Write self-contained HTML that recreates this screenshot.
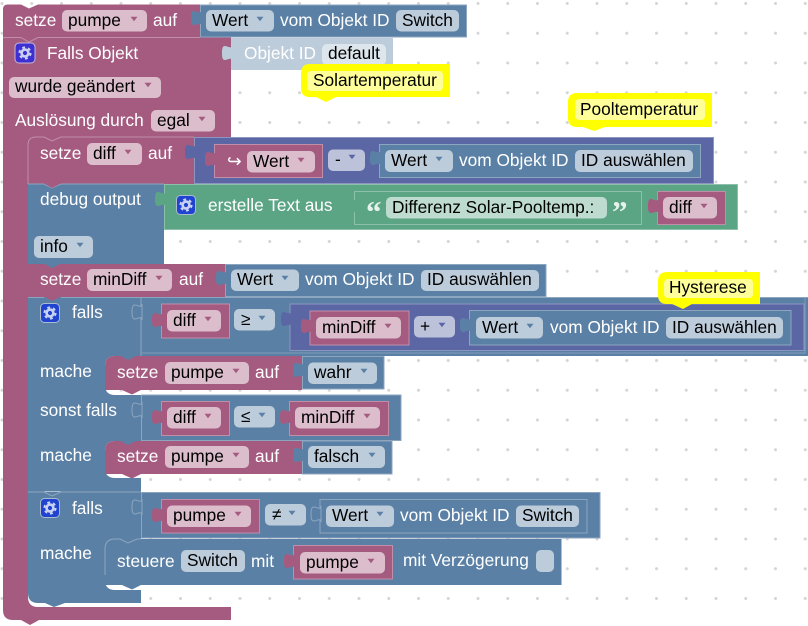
<!DOCTYPE html>
<html><head><meta charset="utf-8"><style>
html,body{margin:0;padding:0;background:#fff;width:808px;height:626px;overflow:hidden}
svg{display:block}
text{font-family:"Liberation Sans",sans-serif;font-size:17.3px;fill:#000}
.w{fill:#fff}
.P{fill:#a55b80}.B{fill:#5b80a5}.U{fill:#5b67a5}.G{fill:#5ba585}
.Ps{fill:#a55b80;stroke:#c08ea8;stroke-width:1}
.Bs{fill:#5b80a5;stroke:#8ca6c0;stroke-width:1}
.Us{fill:#5b67a5;stroke:#8c95c0;stroke-width:1}
.Gs{fill:#5ba585;stroke:#8cc0aa;stroke-width:1}
.fp{fill:#dbbdcc}.fb{fill:#bdccdb}.fu{fill:#bdc2db}.fg{fill:#bddbce}
</style></head><body>
<svg width="808" height="626" viewBox="0 0 808 626" xmlns="http://www.w3.org/2000/svg">
<defs>
<pattern id="grid" x="0.5" y="2" width="29.75" height="29.75" patternUnits="userSpaceOnUse"><circle cx="1.5" cy="1.5" r="1.5" fill="#d4d4d4"/></pattern>
<path id="tab" d="M1,0 V2 C-2,3 -4,1 -6,1 C-9,1 -9,5 -9,8 C-9,11 -9,15 -6,15 C-4,15 -2,13 1,14 V16 Z"/>
<path id="a" d="M-3.5 -2.2h7l-3.5 4.4z"/>
<g id="gear"><circle r="5.6" fill="none" stroke="#c9d2f2" stroke-width="2" stroke-dasharray="2.9 2.96"/><circle r="3.4" fill="none" stroke="#c9d2f2" stroke-width="2.6"/></g>
</defs>
<rect width="808" height="626" fill="#fff"/>
<rect width="808" height="626" fill="url(#grid)"/>

<!-- outer hat C block -->
<path class="P" d="M3,37H231V137H61L52,141L44,137H36Q28,137 28,145V597Q28,607 38,607H231V620H39L30,625L21,620H13Q3,620 3,610Z"/>
<!-- top set block -->
<path class="P" d="M8,4.5H21L29,8.5L38,4.5H200V37.500H38L29,42L21,37.500H3V9Q3,4.500 8,4.500Z"/>
<path d="M3,37.500H21L29,42L38,37.500H200" fill="none" stroke="#c08ea8" stroke-width="1"/>
<rect class="B" x="200" y="4.500" width="267" height="33"/>
<rect x="200.500" y="5" width="266" height="32" fill="none" stroke="#8ca6c0" stroke-width="1"/>
<use href="#tab" class="B" x="200" y="10"/>
<text class="w" x="15" y="26">setze</text>
<rect class="fp" x="62" y="10" width="85" height="21.500" rx="5"/><text x="68" y="26">pumpe</text><use href="#a" x="134" y="19" fill="#a55b80"/>
<text class="w" x="153" y="26">auf</text>
<rect class="fb" x="206" y="10" width="68" height="21.500" rx="5"/><text x="212" y="26">Wert</text><use href="#a" x="260" y="19" fill="#5b80a5"/>
<text class="w" x="280" y="26">vom Objekt ID</text>
<rect class="fb" x="396" y="10" width="63" height="21.500" rx="5"/><text x="402" y="26">Switch</text>

<!-- Falls Objekt -->
<rect x="15" y="43" width="20" height="20" rx="4" fill="#3e2fd3" stroke="#c6b8d8" stroke-width="1"/><use href="#gear" x="25" y="53"/>
<text class="w" x="47" y="59">Falls Objekt</text>
<rect x="231" y="38" width="162" height="32" fill="#bdccdb"/>
<use href="#tab" x="231" y="45" fill="#bdccdb"/>
<text class="w" x="244" y="59">Objekt ID</text>
<rect x="322" y="44" width="64" height="21" rx="5" fill="#dee6ed"/><text x="328" y="59">default</text>
<rect class="fp" x="9" y="77" width="152" height="21" rx="5"/><text x="15" y="92">wurde geändert</text><use href="#a" x="148" y="85" fill="#a55b80"/>
<text class="w" x="15" y="126">Auslösung durch</text>
<rect class="fp" x="151" y="110" width="64" height="21.500" rx="5"/><text x="157" y="126">egal</text><use href="#a" x="202" y="119" fill="#a55b80"/>

<!-- set diff -->
<path class="P" d="M28,145Q28,137 36,137H194V184H28Z"/>
<path d="M28,184V145Q28,137 36,137H44L52,141L61,137H194" fill="none" stroke="#c08ea8" stroke-width="1"/>
<rect class="Us" x="194.500" y="137.500" width="519" height="46"/>
<use href="#tab" class="U" x="194" y="144"/>
<text class="w" x="40" y="159">setze</text>
<rect class="fp" x="87" y="143" width="55" height="22" rx="5"/><text x="93" y="159">diff</text><use href="#a" x="128" y="152" fill="#a55b80"/>
<text class="w" x="148" y="159">auf</text>
<rect class="Ps" x="214.500" y="144.500" width="108" height="33"/>
<use href="#tab" class="P" x="214" y="151"/>
<text class="w" x="227" y="167">↪</text>
<rect class="fp" x="247" y="151" width="68" height="21.500" rx="5"/><text x="253" y="167">Wert</text><use href="#a" x="301" y="160" fill="#a55b80"/>
<rect class="fu" x="328" y="149.500" width="37" height="21.500" rx="5"/><text x="335" y="165">-</text><use href="#a" x="352" y="157" fill="#5b67a5"/>
<rect class="Bs" x="379.500" y="144.500" width="321" height="33"/>
<use href="#tab" class="B" x="379" y="150"/>
<rect class="fb" x="385" y="150" width="68" height="22" rx="5"/><text x="391" y="166">Wert</text><use href="#a" x="439" y="159" fill="#5b80a5"/>
<text class="w" x="459" y="166">vom Objekt ID</text>
<rect class="fb" x="575" y="150" width="118" height="22" rx="5"/><text x="581" y="166">ID auswählen</text>

<!-- debug -->
<path class="B" d="M28,184H164V264H61L52,268L44,264H28Z"/>
<path d="M28,184H44L52,188L61,184H164" fill="none" stroke="#8ca6c0" stroke-width="1"/>
<path class="P" d="M44,183.500L52,188L61,183.500Z"/>
<rect class="Gs" x="164.500" y="184.500" width="573" height="45"/>
<use href="#tab" class="G" x="164" y="191"/>
<text class="w" x="40" y="205">debug output</text>
<rect class="fb" x="34" y="236" width="59" height="22" rx="5"/><text x="40" y="252">info</text><use href="#a" x="80" y="245" fill="#5b80a5"/>
<rect x="176.500" y="195.500" width="19" height="19" rx="4" fill="#2144d0" stroke="#a9bcd0" stroke-width="1"/><use href="#gear" x="186" y="205"/>
<text class="w" x="208" y="211">erstelle Text aus</text>
<rect class="Gs" x="354.500" y="191.500" width="287" height="33"/>
<use href="#tab" class="G" x="354" y="198"/>
<text x="366" y="222" style="font-family:'Liberation Serif',serif;font-size:31px;font-weight:bold;fill:#e6f2ec">“</text>
<rect class="fg" x="386" y="197" width="221" height="21.500" rx="5"/><text x="392" y="213">Differenz Solar-Pooltemp.:</text>
<text x="612" y="222" style="font-family:'Liberation Serif',serif;font-size:31px;font-weight:bold;fill:#e6f2ec">”</text>
<rect class="Ps" x="657.500" y="191.500" width="68" height="33"/>
<use href="#tab" class="P" x="657" y="198"/>
<rect class="fp" x="663" y="197" width="54" height="21.500" rx="5"/><text x="669" y="213">diff</text><use href="#a" x="704" y="206" fill="#a55b80"/>

<!-- set minDiff -->
<path class="P" d="M28,264H225V297H61L52,301L44,297H28Z"/>
<path class="B" d="M44,263.500L52,268L61,263.500Z"/>
<rect class="Bs" x="225.500" y="264.500" width="320.500" height="32"/>
<use href="#tab" class="B" x="225" y="270"/>
<text class="w" x="40" y="285">setze</text>
<rect class="fp" x="87" y="269" width="85" height="22" rx="5"/><text x="93" y="285">minDiff</text><use href="#a" x="159" y="278" fill="#a55b80"/>
<text class="w" x="179" y="285">auf</text>
<rect class="fb" x="231" y="269.500" width="68" height="21.500" rx="5"/><text x="237" y="285">Wert</text><use href="#a" x="285" y="278" fill="#5b80a5"/>
<text class="w" x="305" y="285">vom Objekt ID</text>
<rect class="fb" x="421" y="270" width="118" height="21" rx="5"/><text x="427" y="285">ID auswählen</text>

<!-- if block 1 -->
<path class="B" d="M28,297H141V356H137L128,360L120,356H115Q105,356 105,366V385Q105,395 115,395H141V441H137L128,445L120,441H115Q105,441 105,451V468Q105,478 115,478H141V491.500H28Z"/>
<path class="P" d="M44,296.500L52,301L61,296.500Z"/>
<path d="M28,297.500H44M61,297.500H141V356" fill="none" stroke="#8ca6c0" stroke-width="1"/>
<rect class="B" x="141" y="297" width="667" height="59"/>
<path d="M141,356V297.500H808" fill="none" stroke="#8ca6c0" stroke-width="1"/>
<path d="M805,297.500V353H141" fill="none" stroke="#7f9cb8" stroke-width="1"/>
<use href="#tab" fill="#5b80a5" stroke="#8ca6c0" x="141" y="304"/>
<rect x="40.500" y="303.500" width="19" height="19" rx="4" fill="#2144d0" stroke="#a9bcd0" stroke-width="1"/><use href="#gear" x="50" y="313"/>
<text class="w" x="72" y="318">falls</text>
<rect class="Ps" x="161.500" y="304" width="68" height="34"/>
<use href="#tab" class="P" x="161" y="312"/>
<rect class="fp" x="167" y="310" width="54" height="21.500" rx="5"/><text x="173" y="326">diff</text><use href="#a" x="208" y="319" fill="#a55b80"/>
<rect class="fb" x="234" y="309" width="41" height="21.500" rx="5"/><text x="241" y="325">≥</text><use href="#a" x="262" y="318" fill="#5b80a5"/>
<rect class="Us" x="290" y="304" width="514" height="46.500"/>
<use href="#tab" class="U" x="290" y="311"/>
<rect class="Ps" x="310" y="311" width="99" height="34"/>
<use href="#tab" class="P" x="310" y="318"/>
<rect class="fp" x="316" y="317" width="85" height="21.500" rx="5"/><text x="322" y="333">minDiff</text><use href="#a" x="388" y="326" fill="#a55b80"/>
<rect class="fu" x="414" y="316" width="41" height="21.500" rx="5"/><text x="420" y="332">+</text><use href="#a" x="442" y="325" fill="#5b67a5"/>
<rect class="Bs" x="469.500" y="310.500" width="321.500" height="34.500"/>
<use href="#tab" class="B" x="469" y="317"/>
<rect class="fb" x="476" y="317" width="67" height="21.500" rx="5"/><text x="482" y="333">Wert</text><use href="#a" x="530" y="326" fill="#5b80a5"/>
<text class="w" x="550" y="333">vom Objekt ID</text>
<rect class="fb" x="666" y="317" width="117" height="21.500" rx="5"/><text x="672" y="333">ID auswählen</text>

<text class="w" x="40" y="377">mache</text>
<!-- set pumpe wahr -->
<path class="P" d="M105,366Q105,356 115,356H302V390H141L132,394.500L122,390H105Z"/>
<path class="B" d="M120,355.500L128,360L137,355.500Z"/>
<rect class="Bs" x="302.500" y="356.500" width="81.500" height="32.500"/>
<use href="#tab" class="B" x="302" y="362"/>
<text class="w" x="117" y="378">setze</text>
<rect class="fp" x="165" y="362" width="84" height="22" rx="5"/><text x="171" y="378">pumpe</text><use href="#a" x="236" y="371" fill="#a55b80"/>
<text class="w" x="255" y="378">auf</text>
<rect class="fb" x="308" y="362.500" width="69" height="21.500" rx="5"/><text x="314" y="378">wahr</text><use href="#a" x="364" y="371" fill="#5b80a5"/>

<text class="w" x="40" y="416">sonst falls</text>
<rect class="Bs" x="141.500" y="395" width="259.500" height="45.500"/>
<use href="#tab" fill="#5b80a5" stroke="#8ca6c0" x="141" y="402"/>
<rect class="Ps" x="161.500" y="401.500" width="68" height="34"/>
<use href="#tab" class="P" x="161" y="409"/>
<rect class="fp" x="167" y="407" width="54" height="21.500" rx="5"/><text x="173" y="423">diff</text><use href="#a" x="208" y="416" fill="#a55b80"/>
<rect class="fb" x="234" y="406" width="41" height="21.500" rx="5"/><text x="241" y="422">≤</text><use href="#a" x="262" y="415" fill="#5b80a5"/>
<rect class="Ps" x="289.500" y="401.500" width="99" height="34"/>
<use href="#tab" class="P" x="289" y="409"/>
<rect class="fp" x="295" y="407" width="85" height="21.500" rx="5"/><text x="301" y="423">minDiff</text><use href="#a" x="367" y="416" fill="#a55b80"/>

<text class="w" x="40" y="461">mache</text>
<path class="P" d="M105,451Q105,441 115,441H302V474H141L132,478.500L122,474H105Z"/>
<path class="B" d="M120,440.500L128,445L137,440.500Z"/>
<rect class="Bs" x="302.500" y="441" width="89.500" height="33"/>
<use href="#tab" class="B" x="302" y="447"/>
<text class="w" x="117" y="462">setze</text>
<rect class="fp" x="165" y="446" width="84" height="22" rx="5"/><text x="171" y="462">pumpe</text><use href="#a" x="236" y="455" fill="#a55b80"/>
<text class="w" x="255" y="462">auf</text>
<rect class="fb" x="308" y="446" width="77" height="22" rx="5"/><text x="314" y="462">falsch</text><use href="#a" x="372" y="455" fill="#5b80a5"/>

<!-- if block 2 -->
<path class="B" d="M28,492H141V539H137L128,543L120,539H115Q105,539 105,549V580Q105,590 115,590H141V603H65L54,607L45,603H38Q28,603 28,593Z"/>
<path d="M28,492H44L52,496L61,492H141" fill="none" stroke="#8ca6c0" stroke-width="1"/>
<rect class="Bs" x="141.500" y="492.500" width="458.500" height="45.500"/>
<use href="#tab" fill="#5b80a5" stroke="#8ca6c0" x="141" y="499"/>
<rect x="40.500" y="498.500" width="19" height="19" rx="4" fill="#2144d0" stroke="#a9bcd0" stroke-width="1"/><use href="#gear" x="50" y="508"/>
<text class="w" x="72" y="514">falls</text>
<rect class="Ps" x="161.500" y="499.500" width="98" height="33.500"/>
<use href="#tab" class="P" x="161" y="507"/>
<rect class="fp" x="167" y="505.500" width="84" height="21.500" rx="5"/><text x="173" y="521">pumpe</text><use href="#a" x="238" y="514" fill="#a55b80"/>
<rect class="fb" x="265" y="504" width="41" height="21.500" rx="5"/><text x="272" y="520">≠</text><use href="#a" x="292" y="513" fill="#5b80a5"/>
<rect class="Bs" x="320" y="499.500" width="267" height="33.500"/>
<use href="#tab" fill="#5b80a5" stroke="#8ca6c0" x="320" y="506"/>
<rect class="fb" x="326" y="505.500" width="68" height="21.500" rx="5"/><text x="332" y="521">Wert</text><use href="#a" x="380" y="514" fill="#5b80a5"/>
<text class="w" x="400" y="521">vom Objekt ID</text>
<rect class="fb" x="516" y="505.500" width="63" height="21.500" rx="5"/><text x="522" y="521">Switch</text>

<text class="w" x="40" y="559">mache</text>
<path class="B" d="M105,549Q105,539 115,539H561.500V585H141L132,589.500L122,585H105Z"/>
<path d="M105,575V549Q105,539 115,539H120L128,543L137,539H141" fill="none" stroke="#8ca6c0" stroke-width="1"/>
<text class="w" x="117" y="567">steuere</text>
<rect class="fb" x="181" y="550" width="64" height="22" rx="5"/><text x="187" y="566">Switch</text>
<text class="w" x="251" y="567">mit</text>
<rect class="Ps" x="293.500" y="545.500" width="99" height="33.500"/>
<use href="#tab" class="P" x="293" y="553"/>
<rect class="fp" x="300" y="552" width="85" height="21.500" rx="5"/><text x="306" y="568">pumpe</text><use href="#a" x="371" y="561" fill="#a55b80"/>
<text class="w" x="403" y="566">mit Verzögerung</text>
<rect class="fb" x="536" y="550" width="18" height="22" rx="5"/>

<!-- comments -->
<path fill="#ff0" d="M310,64H450V97H336L326,102L316,97H310Q301,97 301,88V73Q301,64 310,64Z"/>
<rect x="307" y="71" width="136" height="20" rx="4" fill="#ffff99"/>
<text x="313" y="86">Solartemperatur</text>
<path fill="#ff0" d="M577,93H712V127H605L594,131L583,127H577Q568,127 568,118V102Q568,93 577,93Z"/>
<rect x="575" y="99" width="130" height="21" rx="4" fill="#ffff99"/>
<text x="580" y="115">Pooltemperatur</text>
<path fill="#ff0" d="M667,272H760V304H692L683,309L672,304H667Q658,304 658,295V281Q658,272 667,272Z"/>
<rect x="664" y="279" width="89" height="19" rx="4" fill="#ffff99"/>
<text x="669" y="293">Hysterese</text>
</svg>
</body></html>
